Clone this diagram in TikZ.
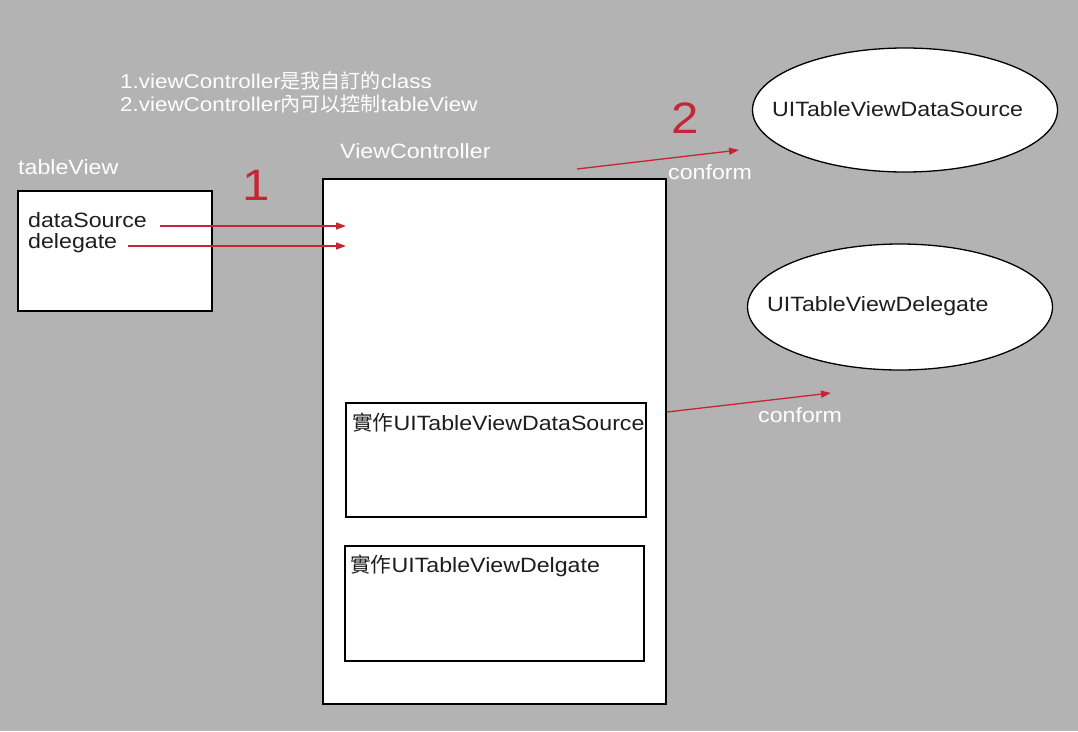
\documentclass[tikz,border=0pt]{standalone}
\usepackage{fontspec}
\setmainfont[FakeStretch=1.12]{Liberation Sans}
\newfontfamily\cjk{Noto Sans CJK TC}
\usetikzlibrary{arrows.meta,shapes.geometric}
\definecolor{bg}{RGB}{179,179,179}
\definecolor{redc}{RGB}{196,38,52}
\definecolor{darktext}{RGB}{30,30,30}
\tikzset{
  box/.style={draw=black, fill=white, line width=1.3pt},
  oval/.style={draw=black, fill=white, line width=1.3pt, ellipse},
  wlabel/.style={text=white, anchor=west, inner sep=0pt, font=\fontsize{20.7}{23}\selectfont},
  dlabel/.style={text=darktext, anchor=west, inner sep=0pt, font=\fontsize{20.7}{23}\selectfont},
  note/.style={text=white, anchor=west, inner sep=0pt, font=\fontsize{20}{22}\selectfont},
  bignum/.style={text=redc, inner sep=0pt, font=\fontsize{44}{46}\selectfont},
  redarrow/.style={draw=redc, line width=1.3pt, -{Triangle[length=10pt,width=7pt]}},
}
\begin{document}
\begin{tikzpicture}[x=1pt,y=-1pt]
\fill[bg] (0,0) rectangle (1078,731);
\useasboundingbox (0,0) rectangle (1078,731);

% notes
\node[note] (n1) at (120,81) {1.viewController{\cjk 是我自訂的}class};
\node[note] (n2) at (120,104) {2.viewController{\cjk 內可以控制}tableView};

% tableView
\node[wlabel] (tvlabel) at (18,167) {tableView};
\draw[box] (18,191) rectangle (212,311);
\node[dlabel] (ds) at (28,220) {dataSource};
\node[dlabel] (dg) at (28,243) {delegate};

% big numbers
\node[bignum] (one) at (256,185) {1};
\node[bignum] (two) at (685,118) {2};

% ViewController
\node[wlabel] (vclabel) at (340,151) {ViewController};
\draw[box] (323,179) rectangle (666,704);
\draw[box] (346,403) rectangle (646,517);
\node[dlabel] (implds) at (352,423) {{\cjk 實作}UITableViewDataSource};
\draw[box] (345,546) rectangle (644,661);
\node[dlabel] (impldg) at (350,566) {{\cjk 實作}UITableViewDelgate};

% ellipses
\node[oval, minimum width=305pt, minimum height=124pt] (eds) at (905,110) {};
\node[dlabel] (edstext) at (772,109) {UITableViewDataSource};
\node[oval, minimum width=305pt, minimum height=126pt] (edg) at (900,307) {};
\node[dlabel] (edgtext) at (767,306) {UITableViewDelegate};

% arrows
\coordinate (a1s) at (160,226);
\coordinate (a1e) at (346,226);
\coordinate (a2s) at (128,246);
\coordinate (a2e) at (346,246);
\draw[redarrow] (a1s) -- (a1e);
\draw[redarrow] (a2s) -- (a2e);

\coordinate (c1s) at (577,169);
\coordinate (c1e) at (739,150);
\draw[redarrow] (c1s) -- (c1e);
\node[wlabel] (conf1) at (668,172) {conform};

\coordinate (c2s) at (667,412);
\coordinate (c2e) at (831,393);
\draw[redarrow] (c2s) -- (c2e);
\node[wlabel] (conf2) at (758,415) {conform};
\end{tikzpicture}
\end{document}
